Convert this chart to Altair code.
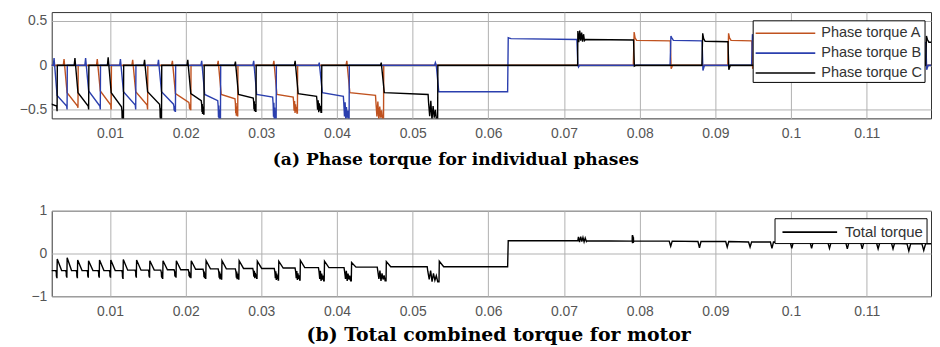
import altair as alt
import pandas as pd

# ---------------- axes ----------------
X_DOMAIN = [0.0023, 0.1185]
X_TICKS = [0.01, 0.02, 0.03, 0.04, 0.05, 0.06, 0.07, 0.08, 0.09, 0.1, 0.11]
Y_TOP_DOMAIN = [-0.6, 0.6]
Y_TOP_TICKS = [-0.5, 0, 0.5]
Y_BOT_DOMAIN = [-1, 1]
Y_BOT_TICKS = [-1, 0, 1]

SERIES = ["Phase torque A", "Phase torque B", "Phase torque C"]
PHASE_KEYS = ["A", "B", "C"]
COLORS = ["#c0521f", "#2b3fae", "#000000"]
TOTAL_NAME = "Total torque"

TITLE_A = "(a) Phase torque for individual phases"
TITLE_B = "(b) Total combined torque for motor"

# ---------------- phase pulses, negative-torque region ----------------
NEG_PHASE = ["C"] + ["B", "A", "C"] * 7
NEG_ON = [0.0005, 0.00261, 0.00393, 0.00537, 0.00678, 0.00832, 0.00976, 0.01138,
          0.01300, 0.01457, 0.01641, 0.01825, 0.02028, 0.02212, 0.02430, 0.02658,
          0.02899, 0.03166, 0.03447, 0.03766, 0.04130, 0.04585]
NEG_OFF = [0.00301, 0.00433, 0.00577, 0.00718, 0.00872, 0.01016, 0.01178, 0.01340,
           0.01497, 0.01681, 0.01865, 0.02068, 0.02242, 0.02460, 0.02688, 0.02929,
           0.03196, 0.03477, 0.03796, 0.04160, 0.04615, 0.05330]
NEG_SPIKE = [0.0, 0.08, 0.07, 0.08, 0.08, 0.07, 0.09, 0.07, 0.06, 0.06, 0.06,
             0.05, 0.06, 0.05, 0.05, 0.04, 0.05, 0.05, 0.05, 0.03, 0.05, 0.03]
NEG_DROP = [-0.40, -0.34, -0.31, -0.31, -0.29, -0.29, -0.31, -0.30, -0.30, -0.30,
            -0.30, -0.32, -0.32, -0.33, -0.33, -0.33, -0.33, -0.33, -0.32, -0.31,
            -0.31, -0.31]
NEG_END = [-0.46, -0.46, -0.46, -0.46, -0.46, -0.45, -0.47, -0.45, -0.45, -0.44,
           -0.44, -0.42, -0.40, -0.40, -0.38, -0.37, -0.36, -0.36, -0.35, -0.35,
           -0.34, -0.33]
NEG_MIN = [-0.52, -0.50, -0.48, -0.50, -0.50, -0.50, -0.62, -0.50, -0.50, -0.62,
           -0.52, -0.50, -0.55, -0.62, -0.57, -0.52, -0.62, -0.54, -0.53, -0.62,
           -0.62, -0.62]
NEG_RING = [0.0, 0.0, 0.0, 0.0, 0.0, 0.0, 0.0002, 0.0, 0.0, 0.0002, 0.0002,
            0.0002, 0.0003, 0.0003, 0.0003, 0.0003, 0.0004, 0.0005, 0.0006,
            0.0007, 0.0010, 0.0012]

# phase B pulse that changes sign
TRANS_T = [0.05290, 0.05300, 0.05312, 0.05345, 0.06255, 0.06263, 0.06300, 0.07170, 0.07183, 0.07192, 0.07205]
TRANS_V = [0.0, 0.03, 0.0, -0.30, -0.30, 0.31, 0.30, 0.29, 0.0, -0.02, 0.0]

# ---------------- phase pulses, positive-torque region ----------------
POS_PHASE = ["C", "A", "B"] * 5 + ["C"]
POS_ON = [0.07183, 0.07919, 0.08405, 0.08825, 0.09167, 0.09482, 0.09771, 0.10034,
          0.10297, 0.10533, 0.10770, 0.10967, 0.11177, 0.11374, 0.11585, 0.11782]
POS_OFF = [0.07925, 0.08411, 0.08831, 0.09173, 0.09488, 0.09777, 0.10040, 0.10303,
           0.10539, 0.10776, 0.10973, 0.11183, 0.11380, 0.11591, 0.11788, 0.12100]
POS_PEAK = [0.39, 0.375, 0.33, 0.36, 0.36, 0.35, 0.35, 0.34, 0.34, 0.34, 0.34,
            0.33, 0.33, 0.33, 0.33, 0.33]
POS_LEVEL = [0.29, 0.28, 0.28, 0.27, 0.28, 0.28, 0.27, 0.27, 0.27, 0.27, 0.26,
             0.26, 0.26, 0.26, 0.26, 0.26]
POS_DIP = [-0.01, -0.04, -0.06, -0.05, -0.04, -0.05, -0.05, -0.05, -0.05, -0.05,
           -0.05, -0.05, -0.05, -0.05, -0.05, -0.05]
POS_RING = [0.0010] + [0.0] * 15

# normalised shape of one ringing burst (read from the widest burst)
RING_SHAPE = [0.3, 0.85, 0.25, 1.0, 0.45, 0.9, 0.6, 1.0]

# ---------------- total torque ----------------
TOT_NEG_T = [0.00301, 0.00432, 0.00571, 0.00715, 0.00860, 0.01009, 0.01174, 0.01350,
             0.01525, 0.01699, 0.01875, 0.02072, 0.02268, 0.02478, 0.02705, 0.02945,
             0.03229, 0.03514, 0.03833, 0.04191, 0.04650, 0.05350]
TOT_NEG_PEAK = [-0.13, -0.10, -0.15, -0.17, -0.15, -0.15, -0.14, -0.15, -0.17, -0.17,
                -0.17, -0.17, -0.17, -0.17, -0.17, -0.18, -0.18, -0.16, -0.18, -0.21,
                -0.19, -0.18]
TOT_NEG_DIP = [-0.56, -0.55, -0.56, -0.55, -0.55, -0.55, -0.58, -0.55, -0.55, -0.58,
               -0.55, -0.56, -0.58, -0.60, -0.60, -0.58, -0.62, -0.62, -0.64, -0.64,
               -0.64, -0.66]
TOT_NEG_BASE = [-0.40, -0.40, -0.40, -0.40, -0.40, -0.40, -0.39, -0.39, -0.39, -0.38,
                -0.38, -0.37, -0.36, -0.36, -0.35, -0.35, -0.34, -0.33, -0.33, -0.32,
                -0.31, -0.31]
TOT_NEG_RING = [0.0001] * 9 + [0.0002, 0.0002, 0.0003, 0.0003, 0.0004, 0.0004, 0.0005,
                               0.0005, 0.0006, 0.0007, 0.0009, 0.0011, 0.0015]
TOT_STEP_T = [0.06255, 0.06263]
TOT_STEP_V = [-0.31, 0.30]

TOT_POS_T = [0.07243, 0.07911, 0.08410, 0.08790, 0.09157, 0.09459, 0.09748, 0.10010,
             0.10272, 0.10508, 0.10744, 0.10941, 0.11151, 0.11348, 0.11557, 0.11754]
TOT_POS_LEVEL = [0.30, 0.29, 0.29, 0.28, 0.28, 0.27, 0.27, 0.26, 0.26, 0.25, 0.25,
                 0.25, 0.24, 0.24, 0.23, 0.23]
TOT_POS_HI = [0.40, 0.44, 0.29, 0.28, 0.28, 0.27, 0.27, 0.26, 0.26, 0.25, 0.25,
              0.25, 0.24, 0.24, 0.23, 0.23]
TOT_POS_LO = [0.20, 0.15, 0.17, 0.13, 0.15, 0.15, 0.12, 0.12, 0.12, 0.12, 0.11,
              0.11, 0.11, 0.11, 0.06, 0.07]
TOT_POS_W = [0.0012, 0.0002, 0.0004, 0.0004, 0.0004, 0.0004, 0.0004, 0.0004, 0.0004,
             0.0004, 0.0004, 0.0004, 0.0004, 0.0004, 0.0005, 0.0005]
TOT_END = [0.125, 0.23]


def phase_points(key):
    pts = [(0.0, 0.0)]
    for i, p in enumerate(NEG_PHASE):
        if p != key:
            continue
        on, off, ring = NEG_ON[i], NEG_OFF[i], NEG_RING[i]
        pts += [(on - 0.0001, 0.0), (on, NEG_SPIKE[i]), (on + 0.0004, NEG_DROP[i])]
        pts.append((off - ring - 0.00006, NEG_END[i]))
        n = len(RING_SHAPE)
        if ring > 0:
            for j, f in enumerate(RING_SHAPE):
                pts.append((off - ring + ring * j / n,
                            NEG_END[i] + f * (NEG_MIN[i] - NEG_END[i])))
        pts += [(off, NEG_MIN[i]), (off + 0.00003, 0.0)]
    if key == "B":
        pts += list(zip(TRANS_T, TRANS_V))
    for i, p in enumerate(POS_PHASE):
        if p != key:
            continue
        on, off, ring = POS_ON[i], POS_OFF[i], POS_RING[i]
        lv = POS_LEVEL[i]
        pts.append((on - 0.00003, 0.0))
        if ring > 0:
            n = len(RING_SHAPE)
            for j, f in enumerate(RING_SHAPE):
                sgn = 1 if j % 2 == 0 else -1
                pts.append((on + ring * j / n,
                            lv + sgn * (1.1 - f) * (POS_PEAK[i] - lv + 0.02)))
            pts.append((on + ring, lv))
        else:
            pts += [(on + 0.00008, POS_PEAK[i]), (on + 0.0002, lv + 0.03),
                    (on + 0.0004, lv)]
        pts += [(off - 0.00006, lv - 0.005), (off + 0.00005, POS_DIP[i]),
                (off + 0.00025, 0.0)]
    pts.append((0.125, 0.0))
    pts.sort(key=lambda q: q[0])
    return pts


rows = []
for key, name in zip(PHASE_KEYS, SERIES):
    for i, (t, v) in enumerate(phase_points(key)):
        rows.append({"t": t, "v": v, "s": name, "i": i})
top_df = pd.DataFrame(rows)

tot = [(0.0, TOT_NEG_BASE[0])]
n = len(RING_SHAPE)
for k, t in enumerate(TOT_NEG_T):
    prev = TOT_NEG_BASE[k - 1] if k > 0 else TOT_NEG_BASE[0]
    ring = TOT_NEG_RING[k]
    dip = TOT_NEG_DIP[k]
    tot.append((t - ring - 0.00008, prev))
    for j, f in enumerate(RING_SHAPE):
        tot.append((t - ring + ring * j / n, prev + f * (dip - prev)))
    tot += [(t - 0.00002, dip), (t + 0.00002, TOT_NEG_PEAK[k]),
            (t + 0.0006, TOT_NEG_BASE[k])]
tot += list(zip(TOT_STEP_T, TOT_STEP_V))
for k, t in enumerate(TOT_POS_T):
    lv, w = TOT_POS_LEVEL[k], TOT_POS_W[k]
    tot.append((t - w / 2, lv))
    if TOT_POS_HI[k] > lv + 0.01:
        for j, f in enumerate(RING_SHAPE):
            val = TOT_POS_HI[k] if j % 2 == 0 else TOT_POS_LO[k]
            tot.append((t - w / 2 + w * (j + 0.5) / n, lv + (1.2 - f) * (val - lv)))
    else:
        tot.append((t, TOT_POS_LO[k]))
    tot.append((t + w / 2, lv))
tot.append(tuple(TOT_END))
tot_df = pd.DataFrame({"t": [p[0] for p in tot], "v": [p[1] for p in tot],
                       "s": TOTAL_NAME, "i": list(range(len(tot)))})

LABEL_FONT = "Liberation Sans"
LABEL_SIZE = 14
LABEL_EXPR = "replace('' + datum.value, '-', '\u2212')"


def x_enc():
    return alt.X("t:Q", scale=alt.Scale(domain=X_DOMAIN, nice=False, zero=False),
                 axis=alt.Axis(values=X_TICKS, labelExpr="'' + datum.value", grid=True,
                               ticks=False, domain=False, title=None,
                               labelFontSize=LABEL_SIZE, labelColor="#555555",
                               labelFont=LABEL_FONT, labelPadding=8,
                               gridColor="#b0b0b0", labelOverlap=False, labelFlush=False))


def y_axis(vals):
    return alt.Axis(values=vals, labelExpr=LABEL_EXPR, grid=True, ticks=False,
                    domain=False, title=None, labelFontSize=LABEL_SIZE,
                    labelColor="#555555", labelFont=LABEL_FONT, labelPadding=5,
                    gridColor="#b0b0b0", labelOverlap=False, labelFlush=False)


top_color = alt.Color("s:N", scale=alt.Scale(domain=SERIES, range=COLORS),
                      legend=alt.Legend(orient="none", legendX=705.5, legendY=8.3, title=None,
                                        symbolType="M-1,0H5", symbolSize=400,
                                        symbolStrokeWidth=1.6, symbolFillColor="transparent",
                                        labelFontSize=14.6, labelFont=LABEL_FONT,
                                        labelColor="#333333", fillColor="white",
                                        strokeColor="black", padding=2, rowPadding=2,
                                        labelOffset=45))

layers = []
for name in SERIES:
    layers.append(
        alt.Chart(top_df).transform_filter(alt.datum.s == name)
        .mark_line(strokeWidth=1.4, clip=True)
        .encode(x=x_enc(),
                y=alt.Y("v:Q", scale=alt.Scale(domain=Y_TOP_DOMAIN, nice=False),
                        axis=y_axis(Y_TOP_TICKS)),
                color=top_color, order="i:Q")
    )

top = alt.layer(*layers).properties(
    width=885, height=107,
    title=alt.TitleParams(TITLE_A, orient="bottom", anchor="start", frame="group", dx=222.5,
                          font="DejaVu Serif", fontSize=17.2, fontWeight="bold",
                          color="black", offset=11))

bottom = alt.Chart(tot_df).mark_line(strokeWidth=1.4, clip=True).encode(
    x=x_enc(),
    y=alt.Y("v:Q", scale=alt.Scale(domain=Y_BOT_DOMAIN, nice=False), axis=y_axis(Y_BOT_TICKS)),
    color=alt.Color("s:N", scale=alt.Scale(domain=[TOTAL_NAME], range=["#000000"]),
                    legend=alt.Legend(orient="none", legendX=727.5, legendY=7.5, title=None,
                                      symbolType="M-0.6,0H4.9", symbolSize=400,
                                      symbolStrokeWidth=1.6, symbolFillColor="transparent",
                                      labelFontSize=15, labelFont=LABEL_FONT,
                                      labelColor="#333333", fillColor="white",
                                      strokeColor="black", padding=3, labelOffset=46)),
    order="i:Q",
).properties(
    width=885, height=86,
    title=alt.TitleParams(TITLE_B, orient="bottom", anchor="start", frame="group", dx=256.5,
                          font="DejaVu Serif", fontSize=19, fontWeight="bold",
                          color="black", offset=8))

chart = alt.vconcat(top, bottom, spacing=34).resolve_scale(color="independent") \
    .resolve_legend(color="independent").properties(
        padding={"left": 10, "top": 2, "right": 0, "bottom": 0}) \
    .configure_view(stroke="#333333", strokeWidth=1)

chart.save("out.html", embed_options={"renderer": "svg", "actions": False})
